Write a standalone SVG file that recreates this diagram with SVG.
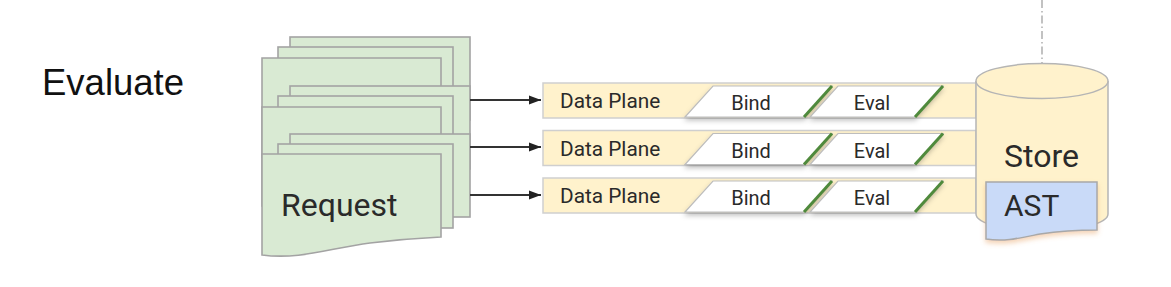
<svg xmlns="http://www.w3.org/2000/svg" width="1171" height="287" viewBox="0 0 1171 287">
<style>
  .doc { fill: #d9ead3; stroke: #a3a3a3; stroke-width: 1.6; }
  .bar { fill: #fff2cc; stroke: #cfcfcf; stroke-width: 1.5; }
  .step { fill: #ffffff; stroke: #bdbdbd; stroke-width: 1.2; }
  .edge { stroke: #4f8a3c; stroke-width: 3; fill: none; }
  .conn { stroke: #333333; stroke-width: 2; fill: none; }
  .t { font-family: Roboto, "Liberation Sans", sans-serif; fill: #2a2a2a; }
  .tl { font-family: "Liberation Sans", Arial, sans-serif; fill: #111111; }
</style>
<defs>
  <marker id="arr" markerWidth="12" markerHeight="10" refX="12" refY="5" orient="auto" markerUnits="userSpaceOnUse" viewBox="0 0 12 10">
    <path d="M0,0.5 L12,5 L0,9.5 Z" fill="#222222"/>
  </marker>
  <filter id="sh" x="-10%" y="-30%" width="120%" height="180%">
    <feDropShadow dx="0" dy="3" stdDeviation="2.5" flood-color="#000000" flood-opacity="0.25"/>
  </filter>
  <filter id="shO" x="-10%" y="-20%" width="120%" height="150%">
    <feDropShadow dx="0" dy="3" stdDeviation="2.5" flood-color="#e8a060" flood-opacity="0.45"/>
  </filter>
  <g id="docset">
    <rect class="doc" x="290" y="37" width="180" height="83"/>
    <rect class="doc" x="278" y="47" width="175" height="84"/>
    <path class="doc" d="M262,58 H441 V140 C420,141 395,143 370,146 C330,151 300,162 262,157 Z"/>
  </g>
  <g id="lane">
    <rect class="bar" x="543" y="83" width="433" height="35"/>
    <text class="t" x="560" y="108" font-size="20.8">Data Plane</text>
    <path class="step" filter="url(#sh)" d="M685,117 L713,86 L832,86 L804,117 Z"/>
    <line class="edge" x1="804" y1="117" x2="832" y2="86"/>
    <text class="t" x="751" y="110" font-size="20" text-anchor="middle">Bind</text>
    <path class="step" filter="url(#sh)" d="M810,117 L838,86 L943,86 L915,117 Z"/>
    <line class="edge" x1="915" y1="117" x2="943" y2="86"/>
    <text class="t" x="872" y="110" font-size="20" text-anchor="middle">Eval</text>
  </g>
</defs>

<g id="title">
  <text class="tl" x="42" y="95" font-size="36.5">Evaluate</text>
</g>

<g id="request">
  <use href="#docset"/>
  <use href="#docset" transform="translate(0,49)"/>
  <rect class="doc" x="290" y="134" width="180" height="83"/>
  <rect class="doc" x="278" y="144" width="175" height="84"/>
  <path class="doc" d="M262,154 H441 V237 C420,238 395,240 370,243 C330,248 300,260 262,255 Z"/>
  <text class="t" x="281" y="216" font-size="32">Request</text>
</g>

<g id="connectors">
  <line class="conn" x1="470" y1="100" x2="541" y2="100" marker-end="url(#arr)"/>
  <line class="conn" x1="470" y1="147" x2="541" y2="147" marker-end="url(#arr)"/>
  <line class="conn" x1="470" y1="195" x2="541" y2="195" marker-end="url(#arr)"/>
  <line x1="1042" y1="0" x2="1042" y2="63" stroke="#9a9a9a" stroke-width="1.2" stroke-dasharray="8,3,1.5,3"/>
</g>

<g id="dataplane1"><use href="#lane"/></g>
<g id="dataplane2"><use href="#lane" transform="translate(0,47.5)"/></g>
<g id="dataplane3"><use href="#lane" transform="translate(0,95)"/></g>

<g id="store">
  <path d="M976,81 V214 A66,17 0 0 0 1108,214 V81" fill="#fff2cc" stroke="#b5b5b5" stroke-width="1.5"/>
  <ellipse cx="1042" cy="81" rx="66" ry="17.5" fill="#fff2cc" stroke="#b5b5b5" stroke-width="1.5"/>
  <text class="t" x="1004" y="167" font-size="32">Store</text>
</g>

<g id="ast">
  <path d="M986,182 H1097 V230 C1080,230 1060,231 1040,234 C1020,238 1005,242 986,239 Z" fill="#c9daf8" stroke="#a8a8a8" stroke-width="1.5" filter="url(#shO)"/>
  <text class="t" x="1004" y="216" font-size="30">AST</text>
</g>
</svg>
